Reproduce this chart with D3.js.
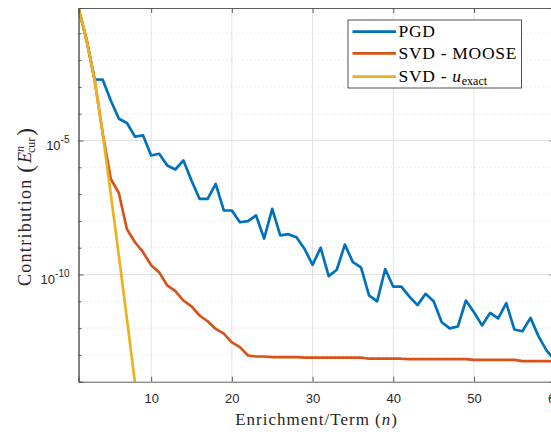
<!DOCTYPE html>
<html>
<head>
<meta charset="utf-8">
<script src="https://cdn.jsdelivr.net/npm/d3@7"></script>
<style>
  body { margin: 0; background: #fff; overflow: hidden; }
  svg { display: block; }
  .serif { font-family: "Liberation Serif", "DejaVu Serif", serif; }
  .sans { font-family: "Liberation Sans", Arial, sans-serif; }
</style>
</head>
<body>
<div id="chart"></div>
<script>
// enrichment / term index for each series
const nPGD = d3.range(1, 61)
const nMoose = d3.range(1, 61)
const nExact = d3.range(1, 9)

// values
const pgd = [
  0.88, 5.6e-2, 1.9e-3, 1.86e-3, 3.1e-4, 6.5e-5, 4.5e-5, 1.4e-5, 1.55e-5, 2.75e-6,
  3.2e-6, 1.17e-6, 8.3e-7, 1.8e-6, 3.2e-7, 6.6e-8, 6.6e-8, 2.4e-7, 2.45e-8, 2.45e-8,
  8.9e-9, 9.8e-9, 1.6e-8, 2.2e-9, 2.8e-8, 2.9e-9, 3.2e-9, 2.45e-9, 9.1e-10, 2.3e-10,
  1.0e-9, 8.7e-11, 1.5e-10, 1.3e-9, 2.9e-10, 1.86e-10, 1.66e-11, 1.0e-11, 1.6e-10, 3.5e-11,
  3.5e-11, 1.5e-11, 7.2e-12, 1.9e-11, 1.0e-11, 1.66e-12, 9.8e-13, 1.15e-12, 1.07e-11, 3.9e-12,
  1.26e-12, 3.7e-12, 2.3e-12, 8.5e-12, 8.9e-13, 7.6e-13, 2.4e-12, 4.9e-13, 1.45e-13, 6.5e-14
]
const svdMoose = [
  0.88, 5.6e-2, 1.8e-3, 1.8e-5, 3.7e-7, 1.1e-7, 4.9e-9, 1.6e-9, 6.8e-10, 2.2e-10,
  1.2e-10, 3.9e-11, 2.4e-11, 1.07e-11, 6.5e-12, 2.95e-12, 1.8e-12, 9.3e-13, 6.2e-13, 2.95e-13,
  1.95e-13, 9.5e-14, 8.7e-14, 8.7e-14, 8.3e-14, 8.3e-14, 8.3e-14, 8.3e-14, 7.9e-14, 7.9e-14,
  7.9e-14, 7.9e-14, 7.9e-14, 7.9e-14, 7.9e-14, 7.9e-14, 7.2e-14, 7.2e-14, 7.2e-14, 7.2e-14,
  7.2e-14, 6.9e-14, 6.9e-14, 6.9e-14, 6.9e-14, 6.9e-14, 6.9e-14, 6.9e-14, 6.9e-14, 6.5e-14,
  6.5e-14, 6.5e-14, 6.5e-14, 6.5e-14, 6.5e-14, 5.9e-14, 5.9e-14, 5.9e-14, 5.9e-14, 5.9e-14
]
const svdExact = [0.88, 5.6e-2, 1.8e-3, 1.8e-5, 1.0e-7, 5.0e-10, 2.2e-12, 8.9e-15]

const xTicks = [10, 20, 30, 40, 50, 60]
const yMajor = [1e-5, 1e-10]
const yMinor = [1e-1, 1e-2, 1e-3, 1e-4, 1e-6, 1e-7, 1e-8, 1e-9, 1e-11, 1e-12, 1e-13]

const series = [
  { name: "PGD", n: nPGD, v: pgd, color: "#0072BD" },
  { name: "SVD - MOOSE", n: nMoose, v: svdMoose, color: "#D95319" },
  { name: "SVD - exact", n: nExact, v: svdExact, color: "#EDB120" }
]

const W = 551, H = 434
const margin = { left: 78.5, top: 8, right: -3.7, bottom: 52.3 }
const pw = W - margin.left - margin.right
const ph = H - margin.top - margin.bottom

const svg = d3.select("#chart").append("svg")
    .attr("width", W)
    .attr("height", H)

const x = d3.scaleLinear().domain([1, 60]).range([0, pw])
const y = d3.scaleLog().domain([1e-14, d3.max(pgd)]).range([ph, 0])

svg.append("defs").append("clipPath").attr("id", "clip")
    .append("rect").attr("width", pw).attr("height", ph)

const g = svg.append("g").attr("transform", `translate(${margin.left},${margin.top})`)

// grid
g.append("g").selectAll("line").data(xTicks).join("line")
    .attr("x1", d => x(d)).attr("x2", d => x(d))
    .attr("y1", 0).attr("y2", ph)
    .attr("stroke", "#e3e3e3").attr("stroke-width", 1)
g.append("g").selectAll("line").data(yMinor).join("line")
    .attr("x1", 0).attr("x2", pw)
    .attr("y1", d => y(d)).attr("y2", d => y(d))
    .attr("stroke", "#d4d4d4").attr("stroke-width", 0.8)
    .attr("stroke-dasharray", "1,3")
g.append("g").selectAll("line").data(yMajor).join("line")
    .attr("x1", 0).attr("x2", pw)
    .attr("y1", d => y(d)).attr("y2", d => y(d))
    .attr("stroke", "#e3e3e3").attr("stroke-width", 1)

// lines
const line = d3.line()
    .x(d => x(d[0]))
    .y(d => y(d[1]))

const plot = g.append("g").attr("clip-path", "url(#clip)")
series.forEach(s => {
  plot.append("path")
      .datum(d3.zip(s.n, s.v))
      .attr("fill", "none")
      .attr("stroke", s.color)
      .attr("stroke-width", 2.7)
      .attr("stroke-linejoin", "round")
      .attr("d", line)
})

// axes (box on)
const axisColor = "#4d4d4d"
const xb = d3.axisBottom(x).tickValues(xTicks).tickSize(-5).tickPadding(12).tickFormat(d3.format("d"))
const xt = d3.axisTop(x).tickValues(xTicks).tickSize(-5).tickFormat("")
const yl = d3.axisLeft(y).tickValues(yMajor).tickSize(-5).tickFormat("")
const yr = d3.axisRight(y).tickValues(yMajor).tickSize(-5).tickFormat("")
const ylm = d3.axisLeft(y).tickValues(yMinor).tickSize(-3).tickFormat("")
const yrm = d3.axisRight(y).tickValues(yMinor).tickSize(-3).tickFormat("")

const styleAxis = sel => {
  sel.attr("font-family", null).attr("font-size", null)
  sel.selectAll("path").attr("stroke", axisColor).attr("stroke-width", 0.9)
  sel.selectAll("line").attr("stroke", axisColor).attr("stroke-width", 0.9)
  sel.selectAll("text").attr("fill", "#262626").attr("class", "sans").style("font-size", "13px")
}

g.append("g").attr("transform", `translate(0,${ph})`).call(xb).call(styleAxis)
g.append("g").call(xt).call(styleAxis)
g.append("g").call(ylm).call(styleAxis)
g.append("g").attr("transform", `translate(${pw},0)`).call(yrm).call(styleAxis)
g.append("g").call(yl).call(styleAxis)
g.append("g").attr("transform", `translate(${pw},0)`).call(yr).call(styleAxis)

// y tick labels 10^k
const ylab = g.append("g").attr("class", "sans").attr("fill", "#262626")
yMajor.forEach(v => {
  const t = ylab.append("text")
      .attr("x", -9)
      .attr("y", y(v) + 9)
      .attr("text-anchor", "end")
      .style("font-size", "13px")
  t.append("tspan").text("10")
  t.append("tspan").attr("dy", -7).style("font-size", "10px").text(Math.round(Math.log10(v)))
})

// axis titles
svg.append("text")
    .attr("class", "serif")
    .attr("x", margin.left + pw / 2)
    .attr("y", 425)
    .attr("text-anchor", "middle")
    .style("font-size", "17px")
    .style("letter-spacing", "1px")
    .attr("fill", "#262626")
    .html("Enrichment/Term (<tspan font-style='italic'>n</tspan>)")

const yt = svg.append("text")
    .attr("class", "serif")
    .attr("transform", "translate(31,207) rotate(-90)")
    .attr("text-anchor", "middle")
    .style("font-size", "18px")
    .attr("fill", "#262626")
yt.append("tspan").style("letter-spacing", "1.3px").text("Contribution ")
yt.append("tspan").style("font-size", "23px").attr("dy", 2).text("(")
yt.append("tspan").attr("font-style", "italic").attr("dx", 2).attr("dy", -2).text("E")
yt.append("tspan").attr("font-style", "italic").attr("dy", -7).style("font-size", "12px").text("n")
yt.append("tspan").attr("dx", -7).attr("dy", 11).style("font-size", "12px").text("cur")
yt.append("tspan").style("font-size", "23px").attr("dx", 2).attr("dy", -2).text(")")

// legend
const lg = svg.append("g").attr("transform", "translate(348,20)")
lg.append("rect")
    .attr("width", 173.5).attr("height", 68)
    .attr("fill", "#fff").attr("stroke", "#262626").attr("stroke-width", 0.8)
const rows = [11.7, 33.3, 56.7]
series.forEach((s, i) => {
  lg.append("line")
      .attr("x1", 4.5).attr("x2", 48)
      .attr("y1", rows[i]).attr("y2", rows[i])
      .attr("stroke", s.color).attr("stroke-width", 2.7)
  const t = lg.append("text")
      .attr("class", "serif")
      .attr("x", 50.5).attr("y", rows[i] + 5.5)
      .style("font-size", "17.5px")
      .style("letter-spacing", "0.7px")
      .attr("fill", "#000")
  if (i < 2) {
    t.text(s.name)
  } else {
    t.append("tspan").text("SVD - ")
    t.append("tspan").attr("font-style", "italic").text("u")
    t.append("tspan").attr("dy", 3).style("font-size", "12px").style("letter-spacing", "0px").text("exact")
  }
})
</script>
</body>
</html>
